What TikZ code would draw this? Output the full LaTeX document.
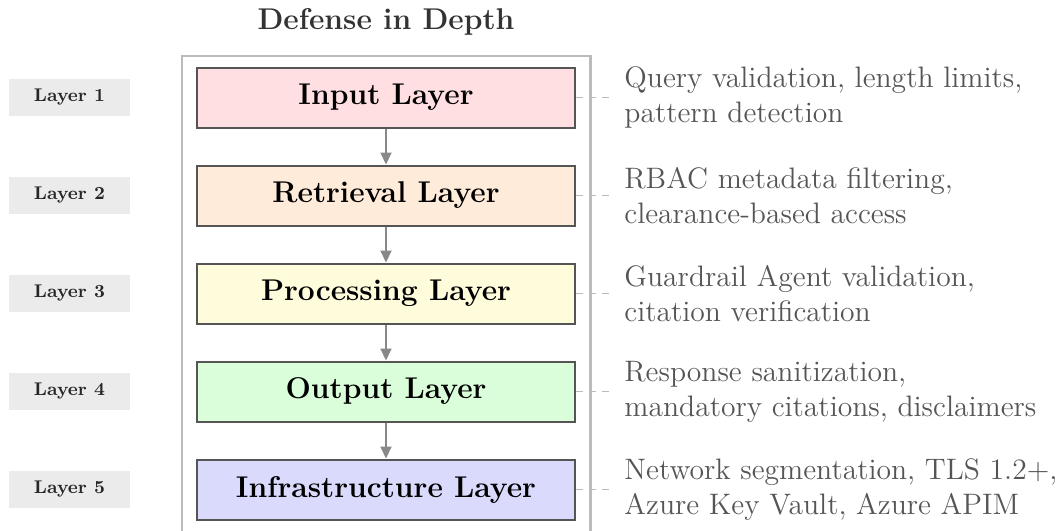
\documentclass[tikz,border=0pt]{standalone}
\usetikzlibrary{arrows.meta}

\definecolor{framegray}{HTML}{BBBBBB}
\definecolor{boxborder}{HTML}{555555}
\definecolor{arrowgray}{HTML}{888888}
\definecolor{taggray}{HTML}{EBEBEB}
\definecolor{desctext}{HTML}{555555}
\definecolor{titletext}{HTML}{333333}
\definecolor{fillinput}{HTML}{FFDFE2}
\definecolor{fillretrieval}{HTML}{FFEBD9}
\definecolor{fillprocessing}{HTML}{FFFCDC}
\definecolor{filloutput}{HTML}{DAFDDA}
\definecolor{fillinfra}{HTML}{DADAFD}

\tikzset{
  layerbox/.style={draw=boxborder, line width=1pt, minimum width=189pt,
    minimum height=30pt, inner sep=0pt,
    font=\fontsize{15}{18}\selectfont\bfseries},
  tagbox/.style={fill=taggray, minimum width=60.5pt, minimum height=18.5pt,
    inner sep=0pt, text=black!85, font=\fontsize{9.2}{11}\selectfont\bfseries},
  descnode/.style={anchor=west, align=left, inner xsep=5.5pt, inner ysep=0pt,
    text=desctext, font=\fontsize{14.8}{17.5}\selectfont},
  flow/.style={draw=arrowgray, line width=1pt,
    -{Stealth[length=6pt,width=5.5pt,inset=0pt]}},
  leader/.style={draw=framegray, line width=0.5pt, dash pattern=on 3.5pt off 3pt},
}

\begin{document}
\begin{tikzpicture}[x=0.5pt, y=-0.5pt]
  \useasboundingbox (0,0) rectangle (1062,531);

  % title
  \node[anchor=base, text=titletext, font=\fontsize{15}{18}\selectfont\bfseries]
    (title) at (386,29) {Defense in Depth};

  % surrounding frame, open at the bottom
  \draw[framegray, line width=1.1pt] (182,540) -- (182,56) -- (590.5,56) -- (590.5,540);

  % layers
  \node[layerbox, fill=fillinput]      (l1) at (386,97.5)  {Input Layer};
  \node[layerbox, fill=fillretrieval]  (l2) at (386,195.5) {Retrieval Layer};
  \node[layerbox, fill=fillprocessing] (l3) at (386,293.5) {Processing Layer};
  \node[layerbox, fill=filloutput]     (l4) at (386,391.5) {Output Layer};
  \node[layerbox, fill=fillinfra]      (l5) at (386,489.5) {Infrastructure Layer};

  % layer tags
  \node[tagbox] (t1) at (69.5,97.5)  {Layer 1};
  \node[tagbox] (t2) at (69.5,195.5) {Layer 2};
  \node[tagbox] (t3) at (69.5,293.5) {Layer 3};
  \node[tagbox] (t4) at (69.5,391.5) {Layer 4};
  \node[tagbox] (t5) at (69.5,489.5) {Layer 5};

  % descriptions
  \node[descnode] (d1) at (613,97.5)  {Query validation, length limits,\\pattern detection};
  \node[descnode] (d2) at (613,195.5) {RBAC metadata filtering,\\clearance-based access};
  \node[descnode] (d3) at (613,293.5) {Guardrail Agent validation,\\citation verification};
  \node[descnode] (d4) at (613,391.5) {Response sanitization,\\mandatory citations, disclaimers};
  \node[descnode] (d5) at (613,489.5) {Network segmentation, TLS 1.2+,\\Azure Key Vault, Azure APIM};

  % flow between layers
  \draw[flow] (l1) -- (l2);
  \draw[flow] (l2) -- (l3);
  \draw[flow] (l3) -- (l4);
  \draw[flow] (l4) -- (l5);

  % leader lines to descriptions
  \foreach \i in {1,...,5}
    \draw[leader] (l\i.east) -- (d\i.west);
\end{tikzpicture}
\end{document}
